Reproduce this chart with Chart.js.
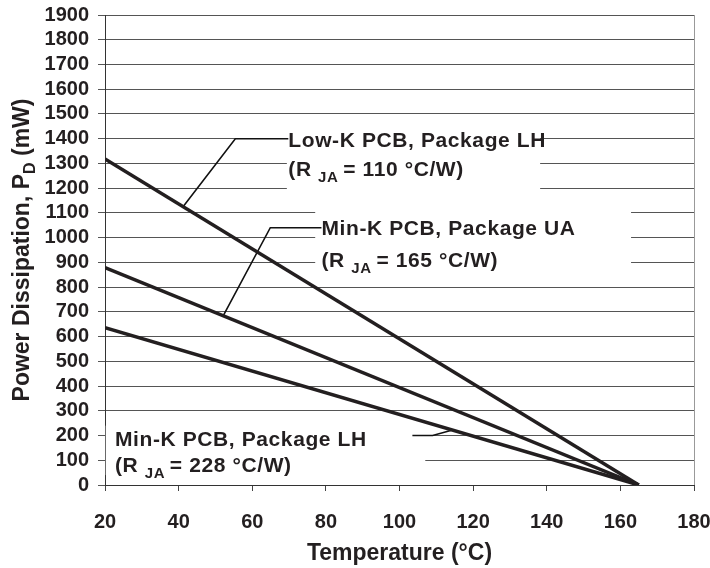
<!DOCTYPE html>
<html>
<head>
<meta charset="utf-8">
<script src="https://cdn.jsdelivr.net/npm/chart.js@4.4.0/dist/chart.umd.min.js"></script>
<style>
  html, body { margin: 0; padding: 0; background: #fff; }
</style>
</head>
<body>
<canvas id="c" width="710" height="568"></canvas>
<script>
// curves: derating from 20 °C down to 0 at 165 °C
const temps = [20, 165];
const lowKLH = [1318, 0];   // R_JA = 110 °C/W
const minKUA = [879, 0];    // R_JA = 165 °C/W
const minKLH = [636, 0];    // R_JA = 228 °C/W

// leader lines from label to curve (x in °C, y in mW)
const lead1X = [69.8, 55.4, 41.2], lead1Y = [1400, 1400, 1125];
const lead2X = [78.8, 64.9, 52.1], lead2Y = [1040, 1040, 684];
const lead3X = [103.5, 109.0, 114.4], lead3Y = [200, 200, 222];

const xTicks = [20, 40, 60, 80, 100, 120, 140, 160, 180];

const ink = '#231f20';
const font = (size) => `bold ${size}px "Liberation Sans", Arial, sans-serif`;

function pts(xs, ys) {
    return xs.map((x, i) => ({ x: x, y: ys[i] }));
}

// label blocks; white boxes hide the grid behind them
const labels = [
    { x: 69.8, y1: 1367, y2: 1250, top: 'Low-K PCB, Package LH', val: '= 110 °C/W)',
      box: [69.4, 138.2, 1150, 1440] },
    { x: 78.8, y1: 1010, y2: 882, top: 'Min-K PCB, Package UA', val: '= 165 °C/W)',
      box: [77.1, 162.9, 860, 1115] },
    { x: 22.7, y1: 157, y2: 52, top: 'Min-K PCB, Package LH', val: '= 228 °C/W)',
      box: [20.2, 107.0, 40, 240] }
];

function drawRuns(ctx, runs, x, y) {
    let cx = x;
    runs.forEach(([t, size, dy]) => {
        ctx.font = font(size);
        ctx.fillText(t, cx, y + dy);
        cx += ctx.measureText(t).width;
    });
    return cx - x;
}

const notes = {
    id: 'notes',
    beforeDatasetsDraw(chart) {
        const { ctx, scales: { x, y } } = chart;
        ctx.save();
        ctx.fillStyle = '#fff';
        labels.forEach(l => {
            const [x0, x1, y0, y1] = l.box;
            ctx.fillRect(x.getPixelForValue(x0), y.getPixelForValue(y1),
                x.getPixelForValue(x1) - x.getPixelForValue(x0),
                y.getPixelForValue(y0) - y.getPixelForValue(y1));
        });
        ctx.restore();
    },
    afterDatasetsDraw(chart) {
        const { ctx, scales: { x, y }, chartArea } = chart;
        ctx.save();
        ctx.fillStyle = ink;
        ctx.textBaseline = 'alphabetic';
        ctx.textAlign = 'left';
        ctx.letterSpacing = '0.6px';
        labels.forEach(l => {
            const px = x.getPixelForValue(l.x);
            ctx.font = font(21);
            ctx.fillText(l.top, px, y.getPixelForValue(l.y1));
            drawRuns(ctx, [['(R ', 21, 0], ['JA ', 15, 6], [l.val, 21, 0]], px, y.getPixelForValue(l.y2));
        });
        ctx.letterSpacing = '0px';

        // y title with subscript D
        const runs = [['Power Dissipation, P', 23, 0], ['D', 16, 6], [' (mW)', 23, 0]];
        let w = 0;
        runs.forEach(([t, size]) => { ctx.font = font(size); w += ctx.measureText(t).width; });
        ctx.translate(29, (chartArea.top + chartArea.bottom) / 2);
        ctx.rotate(-Math.PI / 2);
        drawRuns(ctx, runs, -w / 2, 0);
        ctx.restore();
    }
};

function curve(data) {
    return { data: data, borderColor: ink, borderWidth: 3.5, pointRadius: 0, fill: false };
}
function leader(data) {
    return { data: data, borderColor: '#111', borderWidth: 1.6, pointRadius: 0, fill: false };
}

new Chart(document.getElementById('c'), {
    type: 'line',
    data: {
        datasets: [
            curve(pts(temps, lowKLH)),
            curve(pts(temps, minKUA)),
            curve(pts(temps, minKLH)),
            leader(pts(lead1X, lead1Y)),
            leader(pts(lead2X, lead2Y)),
            leader(pts(lead3X, lead3Y))
        ]
    },
    options: {
        responsive: false,
        animation: false,
        layout: { padding: { top: 15, right: 16, left: 0, bottom: 0 } },
        plugins: { legend: { display: false }, tooltip: { enabled: false } },
        scales: {
            x: {
                type: 'linear',
                min: 20,
                max: 180,
                afterBuildTicks: (s) => { s.ticks = xTicks.map(v => ({ value: v })); },
                afterFit: (s) => { s.height = 83; s.paddingLeft = 0; s.paddingRight = 0; },
                ticks: { color: ink, font: { family: '"Liberation Sans", Arial', size: 20, weight: 'bold' }, padding: 19, autoSkip: false, maxRotation: 0 },
                grid: {
                    color: (c) => (c.tick && c.tick.value === 180 ? '#999' : 'rgba(0,0,0,0)'),
                    tickColor: '#444',
                    tickLength: 6
                },
                border: { color: '#333', width: 1 },
                title: {
                    display: true,
                    text: 'Temperature (°C)',
                    color: ink,
                    font: { family: '"Liberation Sans", Arial', size: 23, weight: 'bold' },
                    padding: { top: 0, bottom: 1 }
                }
            },
            y: {
                min: 0,
                max: 1900,
                afterFit: (s) => { s.width = 105; s.paddingTop = 0; s.paddingBottom = 0; },
                ticks: {
                    stepSize: 100,
                    autoSkip: false,
                    color: ink,
                    font: { family: '"Liberation Sans", Arial', size: 20, weight: 'bold' },
                    padding: 9,
                    callback: (v) => String(v)
                },
                grid: { color: '#555', tickColor: '#555', tickLength: 7 },
                border: { color: '#333', width: 1 }
            }
        }
    },
    plugins: [notes]
});
</script>
</body>
</html>
